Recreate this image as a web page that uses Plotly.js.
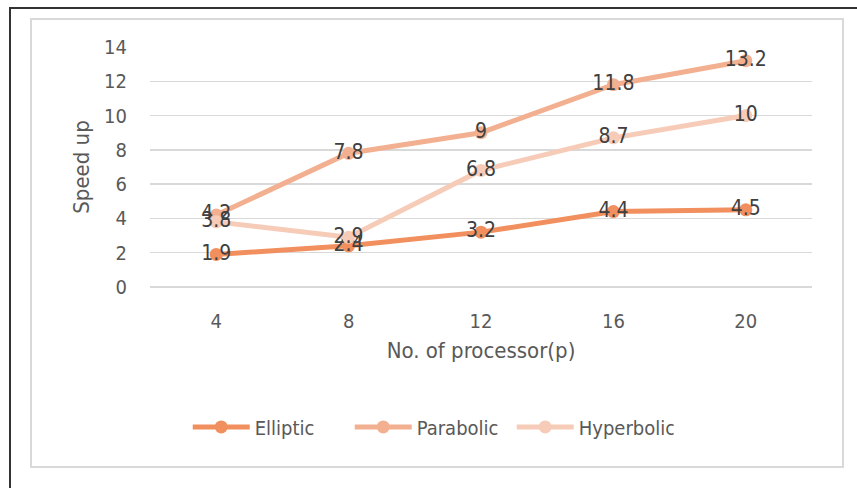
<!DOCTYPE html>
<html>
<head>
<meta charset="utf-8">
<script src="https://cdn.plot.ly/plotly-3.0.1.min.js"></script>
<style>
  html, body { margin: 0; padding: 0; background: #fff; }
  #wrap { position: relative; width: 857px; height: 488px; overflow: hidden; }
  #outer { position: absolute; left: 9px; top: 7px; width: 860px; height: 490px;
           border-left: 2px solid #333; border-top: 2px solid #333; box-sizing: border-box; }
  #frame { position: absolute; left: 30px; top: 18px; width: 814px; height: 450px;
           border: 2px solid #d9d9d9; box-sizing: border-box; }
  #chart { position: absolute; left: 0; top: 0; width: 857px; height: 488px; }
</style>
</head>
<body>
<div id="wrap">
  <div id="outer"></div>
  <div id="frame"></div>
  <div id="chart"></div>
</div>
<script>
// Speed-up per number of processors for three equation types
const processors = ['4', '8', '12', '16', '20'];
const elliptic   = [1.9, 2.4, 3.2, 4.4, 4.5];
const parabolic  = [4.2, 7.8, 9, 11.8, 13.2];
const hyperbolic = [3.8, 2.9, 6.8, 8.7, 10];

const seriesNames  = ['Elliptic', 'Parabolic', 'Hyperbolic'];
const seriesValues = [elliptic, parabolic, hyperbolic];
const seriesColors = ['#F1905E', '#F3B091', '#F6CBB7'];

const FONT = '"DejaVu Sans Condensed", "Liberation Sans Narrow", "Liberation Sans", sans-serif';

const traces = seriesValues.map((vals, i) => ({
  type: 'scatter',
  mode: 'lines+markers+text',
  name: seriesNames[i],
  x: processors,
  y: vals,
  text: vals.map(v => String(v)),
  textposition: 'middle center',
  textfont: { family: FONT, size: 21, color: '#404040' },
  line: { color: seriesColors[i], width: 5 },
  marker: { color: seriesColors[i], size: 13 },
  cliponaxis: false
}));

const layout = {
  width: 857,
  height: 488,
  margin: { l: 150, r: 45, t: 47, b: 201 },
  paper_bgcolor: 'rgba(0,0,0,0)',
  plot_bgcolor: 'rgba(0,0,0,0)',
  font: { family: FONT, size: 20, color: '#595959' },
  showlegend: true,
  legend: {
    orientation: 'h',
    x: 0.057, xanchor: 'left',
    y: -0.583, yanchor: 'middle',
    itemwidth: 57,
    entrywidth: 90,
    entrywidthmode: 'pixels',
    tracegroupgap: 0,
    font: { family: FONT, size: 20, color: '#595959' },
    itemclick: false
  },
  xaxis: {
    type: 'category',
    range: [-0.5, 4.5],
    showgrid: false,
    zeroline: false,
    showline: false,
    ticks: '',
    ticklabelstandoff: 20,
    tickfont: { family: FONT, size: 20, color: '#595959' },
    automargin: false,
    title: { text: 'No. of processor(p)', standoff: 10,
             font: { family: FONT, size: 22, color: '#595959' } }
  },
  yaxis: {
    range: [0, 14],
    dtick: 2,
    showgrid: true,
    gridcolor: '#d9d9d9',
    gridwidth: 1.5,
    zeroline: true,
    zerolinecolor: '#d9d9d9',
    zerolinewidth: 1.5,
    showline: false,
    ticks: '',
    ticklabelstandoff: 22,
    tickfont: { family: FONT, size: 20, color: '#595959' },
    automargin: false,
    title: { text: 'Speed up', standoff: 8,
             font: { family: FONT, size: 22, color: '#595959' } }
  }
};

Plotly.newPlot('chart', traces, layout, { displayModeBar: false, staticPlot: true });
</script>
</body>
</html>
